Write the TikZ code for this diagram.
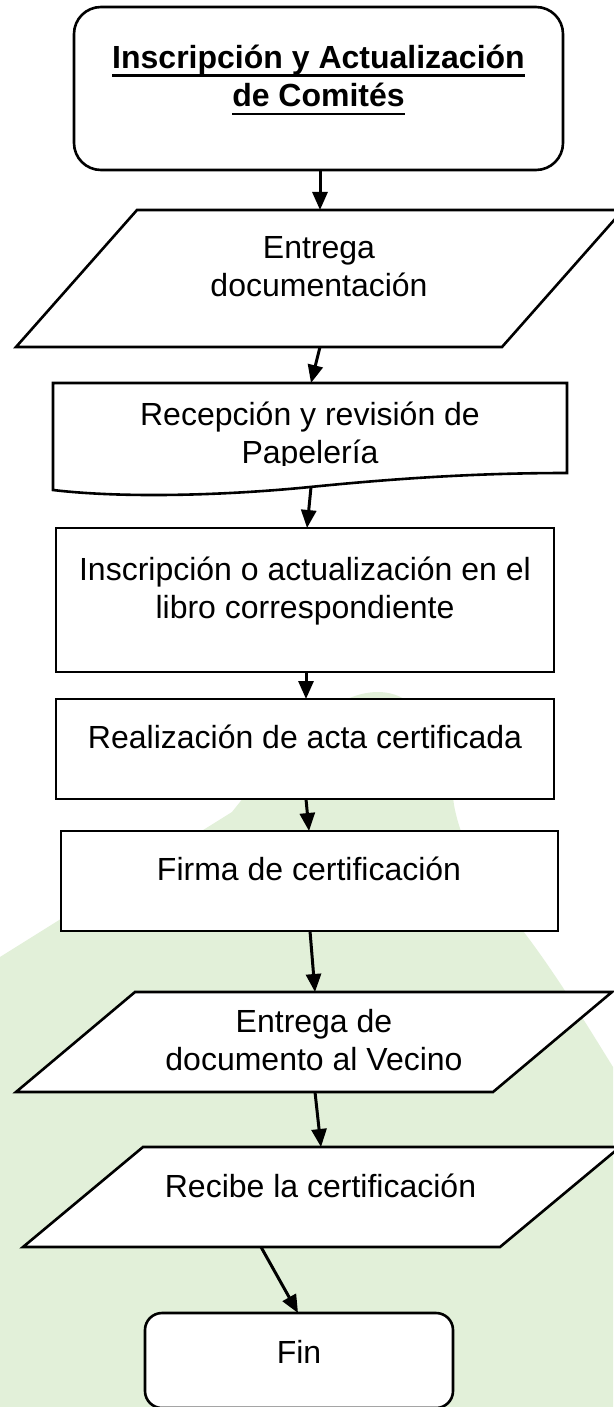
\documentclass[tikz,border=0pt]{standalone}
\usepackage{fontspec}
\setmainfont{Liberation Sans}
\usetikzlibrary{arrows.meta}
\definecolor{bggreen}{HTML}{E2F0D9}
\newsavebox\ulbx
\newcommand\myul[1]{\sbox\ulbx{#1}\rlap{\rule[-8.2pt]{\wd\ulbx}{2.5pt}}\usebox\ulbx}
\begin{document}
\begin{tikzpicture}[x=1pt,y=-1pt,
  shp/.style={draw=black, line width=2.6pt, fill=white},
  box/.style={shp, rectangle, inner sep=0pt, outer sep=0pt},
  ghost/.style={rectangle, inner sep=0pt, outer sep=0pt},
  lbl/.style={font=\fontsize{32}{38.5}\selectfont, align=center, inner sep=0pt, anchor=base},
  arr/.style={line width=3pt, -{Triangle[length=18pt,width=15pt]}},
]
\useasboundingbox (0,0) rectangle (613,1407);
\fill[white] (0,0) rectangle (613,1407);
% background blob
\fill[bggreen] (0,957) -- (232,812) .. controls (285,745) and (330,692) .. (378,692)
  .. controls (425,692) and (447,750) .. (454,805)
  .. controls (462,850) and (490,890) .. (520,927)
  .. controls (555,972) and (590,1030) .. (613,1067)
  -- (613,1407) -- (0,1407) -- cycle;

% shapes
\node[box, rounded corners=27pt, minimum width=489pt, minimum height=163pt] (s) at (318.5,88.5) {};

\node[ghost, minimum width=607pt, minimum height=137pt] (p1) at (319.5,278.5) {};
\draw[shp] ([xshift=121pt]p1.north west) -- (p1.north east) -- ([xshift=-121pt]p1.south east) -- (p1.south west) -- cycle;

\node[ghost, minimum width=514pt, minimum height=107pt] (d) at (310,436.5) {};
\draw[shp] (53,383) -- (567,383) -- (567,473) .. controls (480,473) and (400,478) .. (310,487)
  .. controls (220,496) and (120,498) .. (53,490) -- cycle;

\node[box, minimum width=498pt, minimum height=144pt] (r3) at (305,600) {};
\node[box, minimum width=498pt, minimum height=100pt] (r4) at (305,749) {};
\node[box, minimum width=497pt, minimum height=100pt] (r5) at (309.5,881) {};

\node[ghost, minimum width=596pt, minimum height=100pt] (p2) at (314,1042) {};
\draw[shp] ([xshift=119pt]p2.north west) -- (p2.north east) -- ([xshift=-119pt]p2.south east) -- (p2.south west) -- cycle;

\node[ghost, minimum width=597pt, minimum height=100pt] (p3) at (321.5,1197) {};
\draw[shp] ([xshift=120pt]p3.north west) -- (p3.north east) -- ([xshift=-120pt]p3.south east) -- (p3.south west) -- cycle;

\node[box, rounded corners=17pt, minimum width=308pt, minimum height=95pt] (fin) at (299,1360.5) {};

% connectors
\draw[arr] ([xshift=1.5pt]s.south) -- ([xshift=0.5pt]p1.north);
\draw[arr] ([xshift=0.5pt]p1.south) -- ([xshift=1pt]d.north);
\draw[arr] ([xshift=1pt,yshift=3pt]d.south) -- ([xshift=2pt]r3.north);
\draw[arr] ([xshift=1pt]r3.south) -- ([xshift=1pt]r4.north);
\draw[arr] ([xshift=1pt]r4.south) -- ([xshift=-0.5pt]r5.north);
\draw[arr] ([xshift=0.5pt]r5.south) -- ([xshift=1pt]p2.north);
\draw[arr] ([xshift=1pt]p2.south) -- ([xshift=-0.5pt]p3.north);
\draw[arr] ([xshift=-60.5pt]p3.south) -- ([xshift=-1pt]fin.north);

% labels (anchor=base is the baseline of the last line)
\node[lbl, font={\fontsize{32}{38.5}\selectfont\bfseries}] (t0) at (318.5,107) {\myul{Inscripción y Actualización}\\\myul{de Comités}};
\node[lbl] (t1) at (319,296.5) {Entrega\\documentación};
\begin{scope}
\clip (0,0) rectangle (613,465);
\node[lbl] (t2) at (310,463.5) {Recepción y revisión de\\Papelería};
\end{scope}
\node[lbl] (t3) at (305,618.5) {Inscripción o actualización en el\\libro correspondiente};
\node[lbl] (t4) at (305,748) {Realización de acta certificada};
\node[lbl] (t5) at (309,880) {Firma de certificación};
\node[lbl] (t6) at (314,1070.5) {Entrega de\\documento al Vecino};
\node[lbl] (t7) at (320.5,1197) {Recibe la certificación};
\node[lbl] (t8) at (299,1363) {Fin};
\end{tikzpicture}
\end{document}
